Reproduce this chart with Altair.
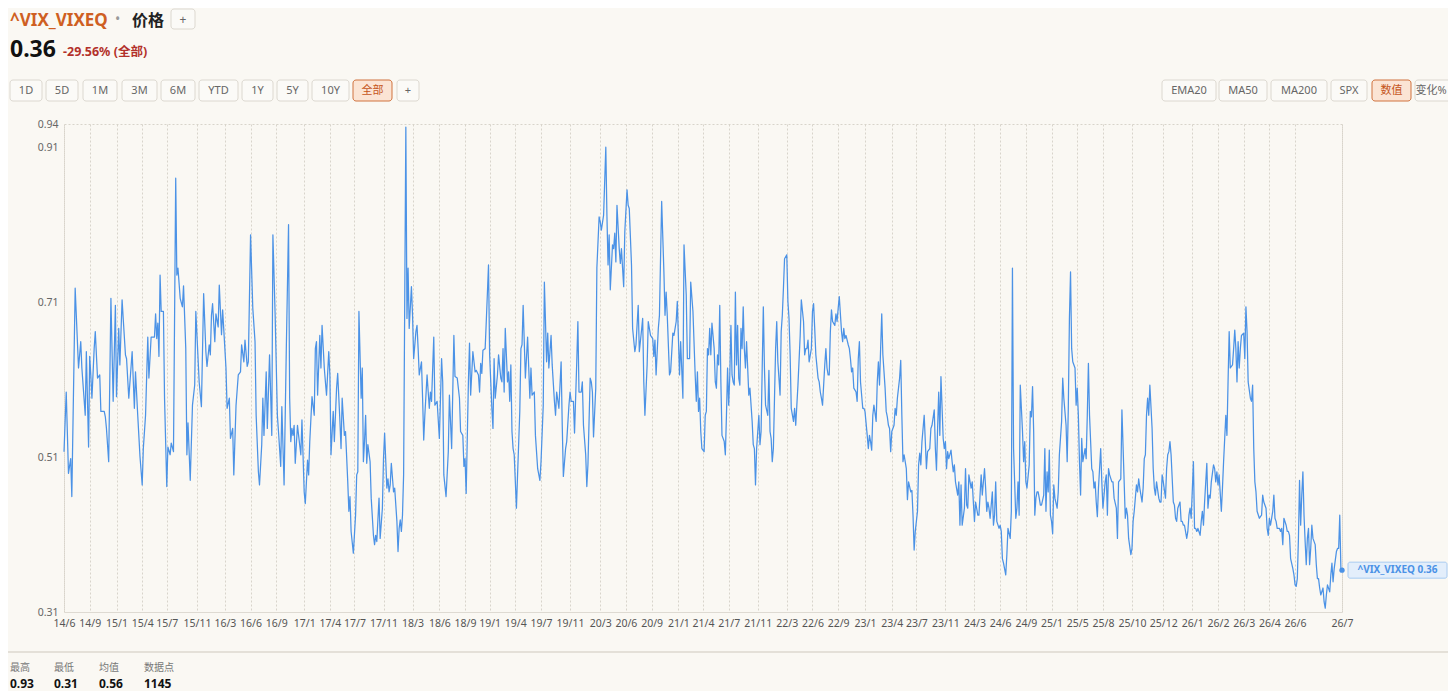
import altair as alt
import pandas as pd

# ---------------- data ----------------
obs = [
    0, 2, 4, 6, 7, 10, 13, 15, 16, 19, 20, 22, 23, 24, 25, 27, 28, 30, 32, 33, 36, 37, 38, 40, 42, 44, 46, 47, 49, 50,
    52, 53, 55, 56, 58, 61, 63, 64, 66, 68, 70, 71, 73, 75, 76, 78, 81, 82, 83, 84, 85, 86, 87, 89, 90, 92, 93, 95, 96, 98,
    100, 101, 102, 104, 106, 107, 109, 110, 111, 113, 115, 117, 118, 121, 123, 125, 127, 128, 130, 131, 132, 133, 135, 136, 138, 139, 141, 142, 144, 145,
    146, 148, 149, 151, 152, 154, 156, 158, 159, 161, 162, 164, 165, 167, 169, 171, 172, 174, 175, 177, 178, 179, 181, 182, 184, 186, 187,
    189, 191, 192, 194, 195, 197, 199, 201, 202, 203, 204, 205, 206, 207, 209, 210, 212, 213, 215, 216, 218, 219, 220, 222, 224, 225, 226, 227, 229, 230,
    231, 233, 234, 235, 237, 238, 239, 241, 242, 244, 245, 247, 248, 249, 251, 252, 254, 255, 256, 257, 259, 261, 262, 263, 264, 266, 267, 268, 269, 270,
    271, 272, 274, 275, 277, 278, 279, 280, 282, 283, 285, 286, 287, 289, 290, 291, 292, 293, 295, 296, 298, 299, 300, 301, 302, 303, 304, 306, 307, 308,
    309, 311, 312, 313, 315, 316, 317, 318, 320, 321, 322, 323, 325, 327, 328, 329, 331, 332, 334, 336, 338, 339, 340, 342, 344, 345, 347, 349, 350, 352,
    354, 355, 357, 358, 359, 360, 362, 363, 364, 366, 368, 369, 371, 372, 373, 374, 375,
    377, 378, 380, 381, 383, 384, 385, 386, 388, 389, 391, 392, 393, 394, 395, 397, 398, 399, 400, 401, 402, 403, 405, 406, 408, 409, 410, 411, 412, 413,
    415, 417, 418, 419, 421, 422, 424, 426, 427, 429, 430, 432, 433, 434, 436, 437, 439, 440, 441, 443, 445, 446, 447, 449, 450, 452, 453, 454, 456, 457,
    459, 460, 461, 463, 464, 465, 467, 468, 469, 471, 472, 473, 474, 476, 477, 479, 480, 481, 483, 485, 486, 487, 488, 489, 491, 492, 493, 494, 495, 497,
    498, 499, 500, 501, 502, 504, 505, 506, 508, 509, 511, 512, 514, 515, 517, 518, 519, 520, 522, 523, 525, 527, 528, 529, 530, 532, 533, 535, 537, 538,
    539, 540, 542, 543, 545, 546, 548, 549, 551, 552, 554, 555, 557, 558, 560, 561, 563, 565,
    566, 567, 568, 569, 570, 571, 573, 574, 575, 576, 577, 578, 579, 580, 582, 583, 584, 585, 586, 587, 588, 589, 591, 592, 593, 594, 595, 596, 597, 598,
    599, 600, 601, 602, 603, 604, 605, 606, 607, 608, 609, 610, 611, 612, 613, 614, 616, 617, 618, 619, 620, 622, 623, 624, 625, 626, 627, 628, 630, 631,
    632, 633, 634, 635, 636, 637, 638, 639, 641, 642, 643, 644, 645, 647, 648, 649, 650, 651, 653, 654, 655, 656, 657, 659, 660, 662, 663, 664, 665, 666,
    667, 669, 670, 671, 672, 673, 675, 676, 677, 678, 679, 681, 682, 683, 684, 685, 686, 687, 688, 690, 691, 692, 693, 694, 696, 697, 698, 699, 700, 702,
    703, 704, 705, 706, 707, 709, 710, 711, 712, 713, 715, 716, 717, 719, 720, 721, 722, 723, 724, 725, 727, 728, 729, 730, 731, 732, 733, 735, 736, 737,
    738, 739, 740, 741, 743, 744, 745, 746, 747, 748, 749, 750, 751,
    752, 754, 755, 756, 758, 759, 760, 761, 762, 764, 765, 766, 767, 768, 770, 771, 772, 773, 775, 776, 777, 779, 780, 781, 782, 783, 784, 785, 787, 788,
    789, 790, 791, 792, 794, 795, 796, 797, 798, 800, 801, 802, 803, 804, 806, 807, 808, 809, 810, 812, 813, 814, 815, 816, 818, 819, 820, 821, 822, 824,
    825, 826, 827, 828, 829, 831, 832, 833, 834, 835, 837, 838, 839, 840, 841, 843, 844, 845, 847, 848, 849, 850, 852, 853, 854, 855, 856, 858, 859, 860,
    861, 862, 864, 865, 866, 867, 868, 869, 870, 871, 872, 873, 874, 875, 877, 878, 879, 880, 881, 882, 883, 884, 885, 886, 887, 889, 890, 891, 893, 894,
    895, 897, 898, 899, 900, 901, 902, 903, 905, 906, 907, 908, 909, 910, 911, 912, 914, 915, 916, 917, 918, 920, 921, 922, 923, 924, 925, 926, 928, 929,
    930, 932, 933, 934, 935, 936, 938, 939, 940,
    942, 943, 944, 946, 947, 949, 950, 951, 952, 953, 955, 956, 957, 958, 960, 961, 962, 963, 965, 966, 967, 968, 969, 970, 971, 972, 974, 975, 976, 977,
    978, 980, 981, 982, 983, 984, 986, 987, 988, 989, 990, 991, 993, 994, 995, 996, 997, 999, 1000, 1001, 1002, 1003, 1005, 1006, 1007, 1008, 1009, 1011, 1012, 1013,
    1014, 1015, 1017, 1018, 1019, 1020, 1021, 1023, 1024, 1025, 1026, 1027, 1029, 1030, 1031, 1032, 1033, 1034, 1036, 1037, 1038, 1039, 1040, 1041, 1042, 1043, 1044, 1046,
    1047, 1048, 1049, 1050, 1051, 1052, 1053, 1054, 1056, 1057, 1058, 1059, 1060, 1062, 1063, 1064, 1065, 1066, 1067, 1068, 1070, 1071, 1072, 1073, 1074, 1076, 1077, 1078,
    1079, 1080, 1082, 1083, 1084, 1085, 1086, 1088, 1089, 1090, 1091, 1092, 1094, 1095, 1096, 1097, 1098, 1100, 1101, 1102, 1103, 1104, 1105, 1106, 1107, 1108, 1109, 1110,
    1111, 1112, 1113, 1114, 1115, 1116, 1117, 1118, 1120, 1121, 1122, 1123, 1124, 1125, 1127, 1128, 1129, 1130, 1131, 1133, 1134, 1135, 1136, 1137, 1139, 1140, 1141, 1142,
    1143, 1144,
]

vixeq = [
    0.517, 0.594, 0.489, 0.508, 0.459, 0.728, 0.625, 0.659, 0.625, 0.564, 0.646, 0.523, 0.640, 0.616, 0.586, 0.650, 0.672, 0.612, 0.616, 0.569, 0.569, 0.562, 0.547, 0.504, 0.715, 0.582, 0.706, 0.588, 0.676, 0.629,
    0.713, 0.689, 0.642, 0.637, 0.586, 0.646, 0.573, 0.620, 0.564, 0.511, 0.474, 0.521, 0.564, 0.665, 0.612, 0.665, 0.665, 0.695, 0.663, 0.683, 0.640, 0.745, 0.698, 0.698, 0.586, 0.472, 0.523, 0.513, 0.528, 0.517,
    0.870, 0.745, 0.754, 0.715, 0.704, 0.731, 0.650, 0.513, 0.554, 0.480, 0.577, 0.603, 0.698, 0.607, 0.575, 0.721, 0.646, 0.627, 0.655, 0.642, 0.693, 0.708, 0.659, 0.695, 0.678, 0.732, 0.668, 0.700, 0.650, 0.625,
    0.573, 0.586, 0.534, 0.547, 0.487, 0.577, 0.616, 0.620, 0.655, 0.633, 0.661, 0.627, 0.633, 0.797, 0.702, 0.659, 0.564, 0.491, 0.474, 0.526, 0.586, 0.538, 0.620, 0.547, 0.642, 0.538, 0.797,
    0.693, 0.564, 0.543, 0.498, 0.575, 0.474, 0.650, 0.810, 0.586, 0.530, 0.547, 0.538, 0.551, 0.502, 0.551, 0.538, 0.513, 0.558, 0.465, 0.450, 0.506, 0.487, 0.530, 0.588, 0.564, 0.650, 0.659, 0.590, 0.667, 0.625,
    0.680, 0.625, 0.607, 0.590, 0.646, 0.616, 0.513, 0.569, 0.530, 0.599, 0.618, 0.556, 0.521, 0.586, 0.538, 0.543, 0.478, 0.440, 0.459, 0.414, 0.386, 0.435, 0.487, 0.491, 0.698, 0.586, 0.625, 0.504, 0.530, 0.564,
    0.502, 0.526, 0.504, 0.457, 0.409, 0.397, 0.409, 0.401, 0.457, 0.405, 0.444, 0.508, 0.541, 0.470, 0.482, 0.465, 0.474, 0.502, 0.465, 0.470, 0.427, 0.388, 0.418, 0.429, 0.414, 0.435, 0.487, 0.936, 0.689, 0.754,
    0.676, 0.730, 0.693, 0.637, 0.672, 0.680, 0.650, 0.616, 0.633, 0.586, 0.532, 0.564, 0.616, 0.573, 0.594, 0.582, 0.665, 0.577, 0.582, 0.534, 0.637, 0.607, 0.487, 0.459, 0.517, 0.590, 0.521, 0.667, 0.614, 0.612,
    0.586, 0.543, 0.538, 0.498, 0.508, 0.463, 0.607, 0.657, 0.590, 0.646, 0.620, 0.622, 0.616, 0.594, 0.631, 0.618, 0.648,
    0.650, 0.685, 0.758, 0.642, 0.573, 0.547, 0.637, 0.586, 0.616, 0.642, 0.612, 0.607, 0.650, 0.594, 0.676, 0.607, 0.620, 0.582, 0.629, 0.543, 0.521, 0.513, 0.444, 0.487, 0.569, 0.650, 0.655, 0.706, 0.659, 0.612,
    0.665, 0.586, 0.625, 0.590, 0.594, 0.538, 0.495, 0.480, 0.504, 0.577, 0.736, 0.633, 0.670, 0.625, 0.667, 0.629, 0.582, 0.564, 0.594, 0.573, 0.633, 0.551, 0.485, 0.521, 0.530, 0.577, 0.594, 0.582, 0.582, 0.541,
    0.633, 0.685, 0.594, 0.594, 0.607, 0.551, 0.513, 0.472, 0.500, 0.612, 0.607, 0.594, 0.536, 0.599, 0.754, 0.820, 0.814, 0.803, 0.822, 0.910, 0.822, 0.758, 0.797, 0.726, 0.784, 0.779, 0.799, 0.762, 0.835, 0.779,
    0.760, 0.779, 0.754, 0.730, 0.801, 0.855, 0.835, 0.831, 0.758, 0.676, 0.646, 0.655, 0.706, 0.646, 0.674, 0.689, 0.607, 0.564, 0.629, 0.685, 0.667, 0.663, 0.640, 0.661, 0.616, 0.676, 0.693, 0.840, 0.749, 0.693,
    0.723, 0.693, 0.616, 0.620, 0.670, 0.667, 0.685, 0.711, 0.616, 0.659, 0.586, 0.784, 0.719, 0.637, 0.637, 0.736, 0.698, 0.616,
    0.582, 0.620, 0.569, 0.586, 0.543, 0.521, 0.517, 0.564, 0.569, 0.650, 0.642, 0.676, 0.642, 0.683, 0.650, 0.607, 0.599, 0.642, 0.629, 0.706, 0.607, 0.538, 0.530, 0.513, 0.564, 0.625, 0.577, 0.616, 0.680, 0.616,
    0.607, 0.603, 0.723, 0.629, 0.680, 0.612, 0.603, 0.676, 0.650, 0.704, 0.650, 0.625, 0.659, 0.625, 0.590, 0.599, 0.556, 0.526, 0.521, 0.474, 0.521, 0.564, 0.526, 0.543, 0.625, 0.704, 0.625, 0.577, 0.564, 0.622,
    0.543, 0.534, 0.504, 0.521, 0.586, 0.650, 0.685, 0.633, 0.590, 0.672, 0.693, 0.728, 0.766, 0.771, 0.711, 0.689, 0.642, 0.573, 0.556, 0.573, 0.551, 0.577, 0.603, 0.667, 0.713, 0.685, 0.642, 0.650, 0.650, 0.661,
    0.633, 0.650, 0.698, 0.708, 0.676, 0.642, 0.612, 0.607, 0.594, 0.586, 0.577, 0.629, 0.650, 0.625, 0.616, 0.616, 0.672, 0.700, 0.685, 0.680, 0.695, 0.685, 0.702, 0.717, 0.672, 0.659, 0.676, 0.663, 0.667, 0.655,
    0.650, 0.637, 0.620, 0.625, 0.599, 0.594, 0.582, 0.637, 0.659, 0.607, 0.573, 0.573, 0.569, 0.538, 0.521, 0.538, 0.530, 0.519, 0.564, 0.577, 0.556, 0.607, 0.633, 0.603, 0.650, 0.695, 0.642, 0.599, 0.569, 0.562,
    0.551, 0.547, 0.517, 0.543, 0.551, 0.573, 0.564, 0.586, 0.599, 0.612, 0.635, 0.564, 0.504,
    0.513, 0.495, 0.455, 0.478, 0.465, 0.467, 0.435, 0.390, 0.414, 0.440, 0.500, 0.515, 0.500, 0.530, 0.564, 0.530, 0.495, 0.517, 0.521, 0.547, 0.551, 0.571, 0.521, 0.493, 0.547, 0.594, 0.538, 0.614, 0.534, 0.521,
    0.530, 0.495, 0.517, 0.508, 0.519, 0.504, 0.491, 0.500, 0.478, 0.461, 0.478, 0.422, 0.474, 0.422, 0.444, 0.495, 0.448, 0.444, 0.487, 0.470, 0.478, 0.452, 0.427, 0.452, 0.435, 0.435, 0.461, 0.487, 0.461, 0.495,
    0.470, 0.440, 0.452, 0.444, 0.431, 0.465, 0.422, 0.435, 0.478, 0.427, 0.418, 0.422, 0.414, 0.379, 0.373, 0.358, 0.384, 0.418, 0.405, 0.440, 0.754, 0.521, 0.431, 0.444, 0.478, 0.435, 0.603, 0.543, 0.504, 0.530,
    0.478, 0.470, 0.500, 0.569, 0.562, 0.601, 0.543, 0.435, 0.457, 0.465, 0.465, 0.457, 0.448, 0.448, 0.461, 0.521, 0.440, 0.491, 0.465, 0.519, 0.435, 0.427, 0.411, 0.474, 0.457, 0.444, 0.465, 0.513, 0.556, 0.612,
    0.586, 0.551, 0.504, 0.573, 0.689, 0.749, 0.650, 0.633, 0.625, 0.577, 0.599, 0.564, 0.504, 0.461, 0.534, 0.504, 0.521, 0.508, 0.564, 0.631, 0.564, 0.495, 0.491, 0.470, 0.478, 0.452, 0.433, 0.470, 0.521, 0.478,
    0.444, 0.478, 0.487, 0.435, 0.495, 0.487, 0.478, 0.478, 0.457,
    0.444, 0.405, 0.478, 0.482, 0.571, 0.478, 0.431, 0.444, 0.435, 0.405, 0.384, 0.392, 0.427, 0.440, 0.474, 0.465, 0.482, 0.470, 0.452, 0.470, 0.508, 0.513, 0.564, 0.586, 0.564, 0.603, 0.547, 0.495, 0.470, 0.461,
    0.478, 0.457, 0.452, 0.452, 0.487, 0.478, 0.457, 0.495, 0.513, 0.517, 0.530, 0.513, 0.452, 0.448, 0.431, 0.427, 0.444, 0.452, 0.427, 0.427, 0.422, 0.422, 0.405, 0.414, 0.435, 0.444, 0.431, 0.504, 0.418, 0.418,
    0.414, 0.418, 0.409, 0.427, 0.440, 0.422, 0.452, 0.502, 0.444, 0.461, 0.457, 0.478, 0.500, 0.495, 0.478, 0.491, 0.474, 0.487, 0.440, 0.470, 0.504, 0.534, 0.564, 0.538, 0.607, 0.672, 0.625, 0.629,
    0.650, 0.674, 0.650, 0.607, 0.659, 0.625, 0.650, 0.667, 0.670, 0.637, 0.704, 0.672, 0.607, 0.586, 0.582, 0.603, 0.521, 0.478, 0.465, 0.440, 0.431, 0.433, 0.435, 0.461, 0.452, 0.444, 0.418, 0.409,
    0.431, 0.422, 0.440, 0.461, 0.431, 0.427, 0.418, 0.418, 0.414, 0.418, 0.397, 0.431, 0.422, 0.414, 0.414, 0.409, 0.379, 0.366, 0.358, 0.345, 0.343, 0.353, 0.405, 0.480, 0.422, 0.461, 0.491, 0.435,
    0.401, 0.371, 0.405, 0.418, 0.371, 0.392, 0.422, 0.405, 0.397, 0.371, 0.353, 0.353, 0.341, 0.332, 0.341, 0.323, 0.315, 0.332, 0.345, 0.336, 0.358, 0.373, 0.349, 0.366, 0.388, 0.392, 0.392, 0.435,
    0.366, 0.364,
]

tick_obs = [0, 23, 47, 70, 92, 119, 144, 167, 190, 215, 238, 260, 286, 312, 336, 359, 381, 404, 427, 453,
            480, 503, 526, 550, 572, 595, 621, 647, 670, 693, 717, 741, 763, 789, 815, 838, 861, 884, 907, 930,
            956, 984, 1010, 1033, 1056, 1079, 1102, 1144]
tick_lbl = ['14/6', '14/9', '15/1', '15/4', '15/7', '15/11', '16/3', '16/6', '16/9', '17/1', '17/4', '17/7', '17/11',
            '18/3', '18/6', '18/9', '19/1', '19/4', '19/7', '19/11', '20/3', '20/6', '20/9', '21/1', '21/4', '21/7',
            '21/11', '22/3', '22/6', '22/9', '23/1', '23/4', '23/7', '23/11', '24/3', '24/6', '24/9', '25/1', '25/5',
            '25/8', '25/10', '25/12', '26/1', '26/2', '26/3', '26/4', '26/6', '26/7']
y_ticks = [0.31, 0.51, 0.71, 0.91, 0.94]

range_buttons = ['1D', '5D', '1M', '3M', '6M', 'YTD', '1Y', '5Y', '10Y', '全部', '+']
overlay_buttons = ['EMA20', 'MA50', 'MA200', 'SPX', '数值', '变化%']
stat_names = ['最高', '最低', '均值', '数据点']
stat_values = ['0.93', '0.31', '0.56', '1145']

n = min(len(obs), len(vixeq))
df = pd.DataFrame({'obs': obs[:n], 'value': vixeq[:n]})
last_obs = obs[n - 1]

# ---------------- styling / layout ----------------
FONT = 'Noto Sans, Noto Sans CJK SC, sans-serif'
BLUE = '#4b92e6'
BG = '#faf8f3'
OX, OY = 64, 124          # page position of the plot origin
W, H = 1278, 488

ONE = pd.DataFrame({'k': [0]})


def txt(s, px, py, size=12, color='#333', weight='normal', align='left', baseline='alphabetic'):
    return alt.Chart(ONE).mark_text(
        text=s, fontSize=size, color=color, fontWeight=weight, align=align,
        baseline=baseline, font=FONT
    ).encode(x=alt.value(px - OX), y=alt.value(py - OY))


def box(x1, x2, y1, y2, fill, stroke, r=3, sw=1):
    return alt.Chart(ONE).mark_rect(
        fill=fill, stroke=stroke, strokeWidth=sw, cornerRadius=r
    ).encode(x=alt.value(x1 - OX), x2=alt.value(x2 - OX), y=alt.value(y1 - OY), y2=alt.value(y2 - OY))


def button(label, x1, x2, y1, y2, active=False, size=11, tx=None):
    cx = (x1 + x2) / 2 if tx is None else tx
    if active:
        b = box(x1, x2, y1, y2, '#fbe4d4', '#d0733f')
        t = txt(label, cx, (y1 + y2) / 2 + 0.5, size, '#c5551b', 'normal', 'center', 'middle')
    else:
        b = box(x1, x2, y1, y2, '#fbfaf7', '#dcd8d0')
        t = txt(label, cx, (y1 + y2) / 2 + 0.5, size, '#666666', 'normal', 'center', 'middle')
    return [b, t]


lbl_js = '[' + ','.join(f"'{s}'" for s in tick_lbl) + ']'
idx_js = '[' + ','.join(str(v) for v in tick_obs) + ']'

x_axis = alt.Axis(values=tick_obs, labelExpr=f"{lbl_js}[indexof({idx_js}, datum.value)]",
                  title=None, grid=True, gridColor='#d8d4cb', gridDash=[2, 2], gridWidth=1,
                  ticks=False, domain=True, domainColor='#dedad2', domainWidth=1,
                  labelColor='#555555', labelFontSize=10.5, labelPadding=6,
                  labelFlush=False, labelOverlap=False, labelBound=False, labelFont=FONT)
x_scale = alt.Scale(domain=[0, last_obs], nice=False, zero=False)
y_axis = alt.Axis(values=y_ticks, format='.2f', title=None, grid=False, ticks=False,
                  domain=False, labelColor='#666666', labelFontSize=10.5, labelPadding=6,
                  labelFont=FONT, labelOverlap=False)
y_scale = alt.Scale(domain=[0.31, 0.94], nice=False, zero=False)

x_enc = alt.X('obs:Q', scale=x_scale, axis=x_axis)
y_enc = alt.Y('value:Q', scale=y_scale, axis=y_axis)

base = alt.Chart(df)
line = base.mark_line(color=BLUE, strokeWidth=1.25, strokeJoin='round').encode(x=x_enc, y=y_enc)

end = base.transform_filter(alt.datum.obs == last_obs)
end_dot = end.mark_circle(color=BLUE, size=28, opacity=1).encode(x=x_enc, y=y_enc)
end_box = end.mark_rect(fill='#e3eefb', stroke='#a8cbf2', strokeWidth=1, cornerRadius=2,
                        xOffset=6, x2Offset=105, yOffset=-8, y2Offset=8).encode(
    x=x_enc, x2='obs:Q', y=y_enc, y2='value:Q')
end_txt = end.transform_calculate(tag="'^VIX_VIXEQ ' + format(datum.value, '.2f')").mark_text(
    dx=55.5, align='center', baseline='middle', fontSize=10, fontWeight='bold', color=BLUE, font=FONT
).encode(x=x_enc, y=y_enc, text='tag:N')

layers = [line, end_dot, end_box, end_txt]

# header
layers += [
    txt('^VIX_VIXEQ', 10, 26, 17, '#cf5f22', 'bold'),
    txt('•', 115, 24, 14, '#999999'),
    txt('价格', 132, 26, 16, '#222222', 'bold'),
]
layers += button('+', 171, 195, 9, 29, size=12)
layers += [
    txt('0.36', 10, 57, 23, '#111111', 'bold'),
    txt('-29.56% (全部)', 63, 56, 12.5, '#b3312a', 'bold'),
]

range_x = [(10, 42), (46, 78), (83, 117), (122, 157), (161, 195), (199, 238), (242, 273),
           (277, 308), (312, 349), (353, 392), (397, 419)]
for lab, (a, b) in zip(range_buttons, range_x):
    layers += button(lab, a, b, 80, 101, active=(lab == '全部'))

over_x = [(1162, 1216), (1219, 1267), (1271, 1327), (1331, 1367), (1372, 1411), (1415, 1470)]
for lab, (a, b) in zip(overlay_buttons, over_x):
    tx = 1431 if lab == '变化%' else None
    layers += button(lab, a, b, 80, 101, active=(lab == '数值'), tx=tx)

# footer stats
layers.append(alt.Chart(ONE).mark_rule(color='#e4e0d8', strokeWidth=2).encode(
    x=alt.value(8 - OX), x2=alt.value(1456 - OX), y=alt.value(652 - OY)))
stat_x = [10, 54, 99, 144]
for name, val, sx in zip(stat_names, stat_values, stat_x):
    layers.append(txt(name, sx, 671, 10, '#777777'))
    layers.append(txt(val, sx, 688, 12, '#111111', 'bold'))

chart = alt.layer(*layers).properties(
    width=W, height=H,
    padding={'left': OX - 8, 'top': OY - 8, 'right': 1448 - OX - W, 'bottom': 691 - OY - H},
    autosize=alt.AutoSizeParams(type='none'),
    background=BG,
).configure_view(stroke='#d8d4cb', strokeDash=[2, 2], strokeWidth=1
).configure_axisX(labelOverlap=False)

chart.save('out.html', embed_options={'renderer': 'svg', 'actions': False})
